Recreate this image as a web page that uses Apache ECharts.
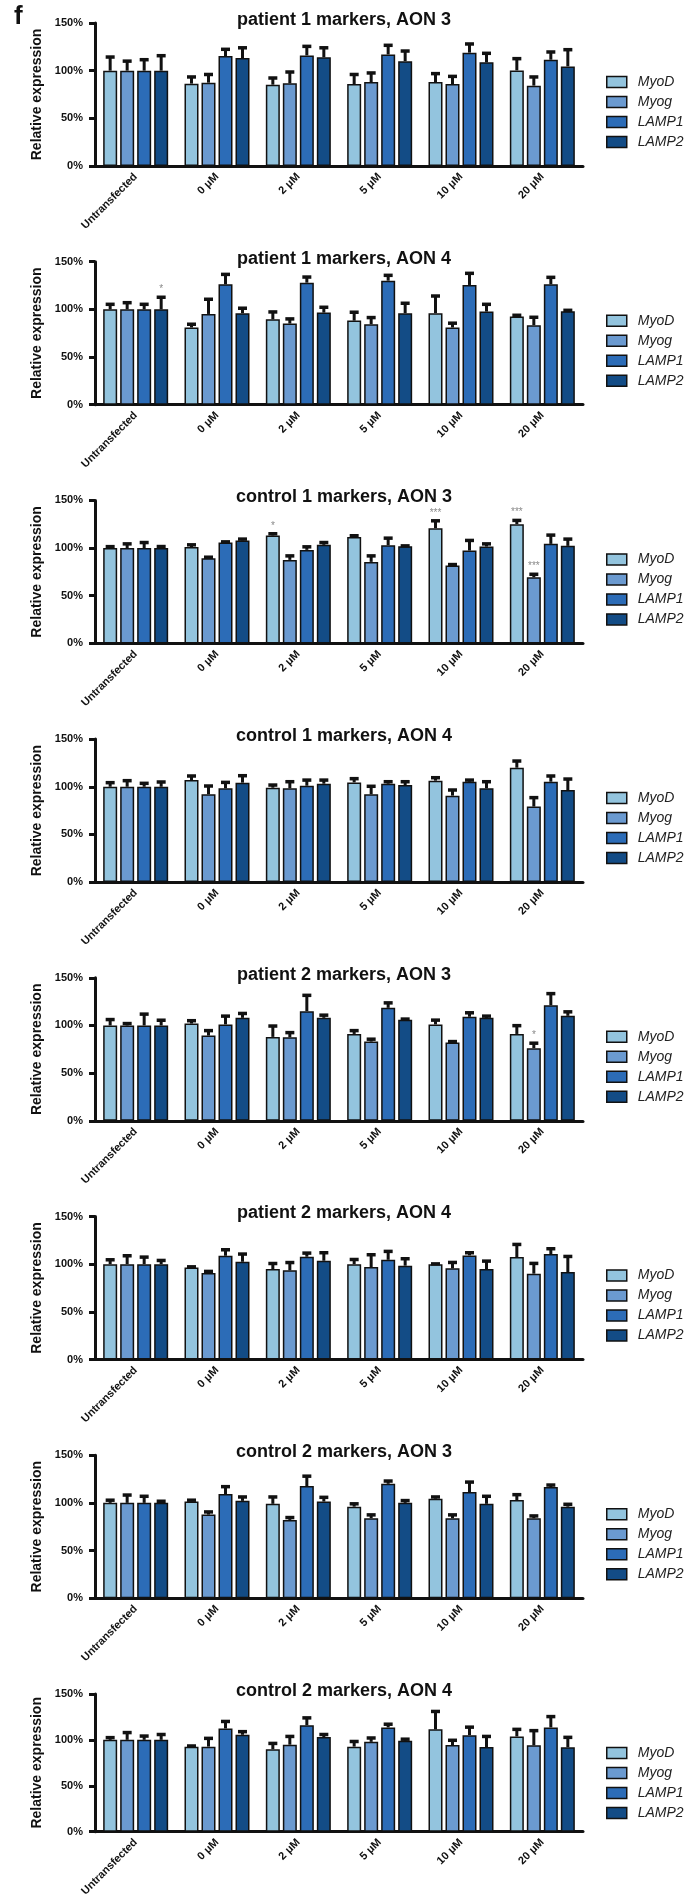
<!DOCTYPE html>
<html>
<head>
<meta charset="utf-8">
<script src="https://cdn.jsdelivr.net/npm/echarts@6/dist/echarts.min.js"></script>
<style>
  html, body { margin: 0; padding: 0; background: #fff; }
  #chart { width: 696px; height: 1899px; }
</style>
</head>
<body>
<div id="chart"></div>
<script>
// ---------- DATA ----------
const categories = ['Untransfected', '0 μM', '2 μM', '5 μM', '10 μM', '20 μM'];
const markers = ['MyoD', 'Myog', 'LAMP1', 'LAMP2'];
const yTicks = [0, 50, 100, 150];
const panelTitles = [
  'patient 1 markers, AON 3', 'patient 1 markers, AON 4',
  'control 1 markers, AON 3', 'control 1 markers, AON 4',
  'patient 2 markers, AON 3', 'patient 2 markers, AON 4',
  'control 2 markers, AON 3', 'control 2 markers, AON 4'
];

// values per marker (rows: MyoD, Myog, LAMP1, LAMP2), % relative expression
const patient1AON3_values = [
  [100, 86.4, 85.3, 86.0, 88.0, 100.3],
  [100, 87.4, 86.7, 88.0, 86.0, 84.3],
  [100, 115.4, 116.0, 117.0, 118.9, 111.5],
  [100, 113.3, 114.0, 110.0, 108.7, 104.5]
];
const patient1AON3_errors = [
  [14.3, 7.0, 7.0, 10.0, 8.9, 12.3],
  [10.0, 8.6, 11.9, 9.6, 8.0, 9.1],
  [11.5, 7.0, 9.5, 9.6, 9.1, 8.1],
  [15.7, 10.7, 10.0, 10.6, 9.5, 17.5]
];
const patient1AON3_stars = [];

const patient1AON4_values = [
  [100, 81.0, 89.6, 88.2, 96.0, 92.4],
  [100, 95.2, 85.1, 84.4, 81.0, 83.4],
  [100, 126.3, 128.0, 130.1, 125.6, 126.3],
  [100, 96.0, 96.6, 96.0, 97.7, 98.0]
];
const patient1AON4_errors = [
  [5.3, 3.4, 7.7, 8.8, 18.0, 1.4],
  [7.0, 15.4, 4.9, 7.0, 4.5, 8.3],
  [5.3, 10.4, 5.9, 5.6, 12.2, 7.3],
  [12.7, 5.2, 5.6, 10.4, 7.6, 1.0]
];
const patient1AON4_stars = [[0, 3, '*']];

const control1AON3_values = [
  [100, 101.0, 113.2, 111.5, 120.9, 125.1],
  [100, 89.4, 87.6, 85.5, 81.7, 69.4],
  [100, 105.8, 98.1, 103.0, 97.4, 104.4],
  [100, 108.0, 103.4, 102.0, 101.6, 102.3]
];
const control1AON3_errors = [
  [1.5, 2.4, 1.8, 1.4, 7.7, 3.9],
  [4.4, 1.0, 4.2, 6.3, 1.0, 3.1],
  [5.8, 0.7, 3.2, 7.4, 10.6, 9.2],
  [1.6, 1.4, 2.4, 0.3, 2.8, 7.1]
];
const control1AON3_stars = [[2, 0, '*'], [4, 0, '***'], [5, 0, '***'], [5, 1, '***']];

const control1AON4_values = [
  [100, 107.0, 99.0, 104.6, 106.4, 120.0],
  [100, 92.1, 98.4, 92.1, 90.7, 79.2],
  [100, 98.4, 101.1, 103.2, 105.3, 105.3],
  [100, 104.3, 103.2, 101.8, 98.4, 96.6]
];
const control1AON4_errors = [
  [4.3, 4.3, 2.8, 3.9, 3.1, 7.0],
  [6.4, 8.7, 6.9, 8.4, 5.9, 9.4],
  [3.6, 6.2, 5.9, 2.1, 1.7, 6.0],
  [5.0, 7.3, 3.8, 3.5, 6.9, 11.5]
];
const control1AON4_stars = [];

const patient2AON3_values = [
  [100, 102.0, 88.0, 91.1, 101.1, 91.1],
  [100, 89.4, 87.6, 83.1, 82.1, 76.2],
  [100, 101.1, 115.0, 118.5, 109.1, 121.2],
  [100, 108.0, 108.0, 106.0, 108.0, 110.1]
];
const patient2AON3_errors = [
  [6.2, 3.0, 11.4, 3.5, 4.5, 8.7],
  [2.0, 5.2, 4.9, 2.5, 1.0, 5.2],
  [11.9, 8.7, 16.6, 5.2, 4.2, 12.2],
  [5.5, 4.6, 2.8, 0.7, 1.8, 4.2]
];
const patient2AON3_stars = [[5, 1, '*']];

const patient2AON4_values = [
  [100, 96.5, 94.8, 100.0, 100.0, 107.4],
  [100, 90.7, 93.5, 97.0, 95.6, 90.0],
  [100, 108.8, 107.8, 104.6, 109.2, 110.6],
  [100, 102.5, 103.6, 98.4, 94.9, 91.7]
];
const patient2AON4_errors = [
  [4.6, 0.7, 5.9, 4.9, 0.3, 13.3],
  [8.8, 1.7, 8.2, 12.9, 6.2, 10.8],
  [7.4, 6.3, 3.8, 8.8, 2.8, 5.6],
  [3.9, 8.1, 8.4, 7.3, 8.3, 16.4]
];
const patient2AON4_stars = [];

const control2AON3_values = [
  [100, 101.4, 99.0, 96.0, 104.4, 103.0],
  [100, 87.7, 82.1, 83.9, 83.9, 83.9],
  [100, 109.3, 117.6, 120.0, 111.4, 116.6],
  [100, 102.1, 101.4, 100.0, 99.0, 96.0]
];
const control2AON3_errors = [
  [2.8, 1.4, 7.2, 3.0, 1.8, 5.6],
  [8.2, 2.8, 2.5, 3.5, 3.5, 2.4],
  [6.9, 7.7, 10.4, 2.9, 10.4, 2.1],
  [1.7, 4.1, 4.4, 2.4, 7.9, 2.5]
];
const control2AON3_stars = [];

const control2AON4_values = [
  [100, 92.6, 89.8, 92.6, 111.4, 103.7],
  [100, 92.6, 94.7, 97.8, 94.3, 94.0],
  [100, 112.4, 115.9, 113.5, 105.1, 113.5],
  [100, 105.5, 103.0, 99.0, 92.2, 91.9]
];
const control2AON4_errors = [
  [2.4, 0.7, 6.3, 5.6, 19.5, 7.7],
  [7.9, 9.0, 9.0, 4.2, 5.2, 16.0],
  [4.1, 7.6, 8.0, 3.5, 8.7, 11.8],
  [5.8, 3.4, 2.8, 1.7, 11.5, 10.8]
];
const control2AON4_stars = [];

const panelValues = [patient1AON3_values, patient1AON4_values, control1AON3_values, control1AON4_values,
  patient2AON3_values, patient2AON4_values, control2AON3_values, control2AON4_values];
const panelErrors = [patient1AON3_errors, patient1AON4_errors, control1AON3_errors, control1AON4_errors,
  patient2AON3_errors, patient2AON4_errors, control2AON3_errors, control2AON4_errors];
const panelStars = [patient1AON3_stars, patient1AON4_stars, control1AON3_stars, control1AON4_stars,
  patient2AON3_stars, patient2AON4_stars, control2AON3_stars, control2AON4_stars];

// ---------- STYLE ----------
const FONT = '"Liberation Sans", Arial, Helvetica, sans-serif';
const colors = ['#93c4de', '#6b9ad0', '#2c6cb7', '#134c86'];
const BAR_W = 14, BAR_GAP = 3;
const GRID_LEFT = 95, GRID_W = 488, GRID_H = 143, FIRST_TOP = 23, PANEL_STEP = 238.7;
const INK = '#111';

const chart = echarts.init(document.getElementById('chart'), null, { renderer: 'canvas' });

const grids = [], xAxes = [], yAxes = [], titles = [], legends = [], series = [];

function makeRender(stars) {
  return function (params, api) {
    const cat = api.value(0), s = api.value(1), v = api.value(2), e = api.value(3);
    const base = api.coord([cat, v]);
    const top = api.coord([cat, v + e]);
    const x = base[0] + (s - 1.5) * (BAR_W + BAR_GAP);
    const children = [
      { type: 'line', shape: { x1: x, y1: base[1], x2: x, y2: top[1] }, style: { stroke: INK, lineWidth: 3 } },
      { type: 'line', shape: { x1: x - 4.5, y1: top[1], x2: x + 4.5, y2: top[1] }, style: { stroke: INK, lineWidth: 3.5 } }
    ];
    const st = stars.find(d => d[0] === cat && d[1] === s);
    if (st) {
      children.push({ type: 'text', x: x, y: top[1] - 3,
        style: { text: st[2], fill: '#8a8a8a', font: '10px ' + FONT, align: 'center', verticalAlign: 'bottom' } });
    }
    return { type: 'group', children };
  };
}

for (let p = 0; p < 8; p++) {
  const top = FIRST_TOP + p * PANEL_STEP;
  grids.push({ left: GRID_LEFT, top: top, width: GRID_W, height: GRID_H, containLabel: false });
  xAxes.push({
    type: 'category', gridIndex: p, data: categories,
    axisLine: { lineStyle: { color: INK, width: 3 } },
    axisTick: { alignWithLabel: true, length: 6, lineStyle: { color: INK, width: 3 } },
    axisLabel: { rotate: 45, margin: 9, color: INK, fontFamily: FONT, fontWeight: 'bold', fontSize: 11, interval: 0 },
    splitLine: { show: false }
  });
  yAxes.push({
    type: 'value', gridIndex: p, min: yTicks[0], max: yTicks[yTicks.length - 1], interval: 50,
    name: 'Relative expression', nameLocation: 'middle', nameGap: 47,
    nameTextStyle: { color: INK, fontFamily: FONT, fontWeight: 'bold', fontSize: 14 },
    axisLine: { show: true, lineStyle: { color: INK, width: 3 } },
    axisTick: { show: true, length: 6, lineStyle: { color: INK, width: 3 } },
    axisLabel: { formatter: '{value}%', margin: 12, color: INK, fontFamily: FONT, fontWeight: 'bold', fontSize: 11 },
    splitLine: { show: false }
  });
  titles.push({
    text: panelTitles[p], left: GRID_LEFT + GRID_W / 2, top: top - 17, textAlign: 'center',
    textStyle: { color: INK, fontFamily: FONT, fontWeight: 'bold', fontSize: 18 }
  });
  legends.push({
    data: markers, orient: 'vertical', left: 601, top: top + 47,
    icon: 'rect', itemWidth: 20, itemHeight: 11, itemGap: 6, selectedMode: false,
    itemStyle: { borderColor: INK, borderWidth: 1.5 },
    textStyle: { color: '#222', fontFamily: FONT, fontStyle: 'italic', fontSize: 14, lineHeight: 14, padding: [0, 0, 0, 6] }
  });
  for (let s = 0; s < 4; s++) {
    series.push({
      type: 'bar', name: markers[s], xAxisIndex: p, yAxisIndex: p,
      data: panelValues[p][s], barWidth: BAR_W, barGap: (BAR_GAP / BAR_W * 100) + '%',
      itemStyle: { color: colors[s], borderColor: INK, borderWidth: 1.5 },
      silent: true, animation: false
    });
  }
  const errData = [];
  for (let s = 0; s < 4; s++) {
    for (let c = 0; c < categories.length; c++) {
      errData.push([c, s, panelValues[p][s][c], panelErrors[p][s][c]]);
    }
  }
  series.push({
    type: 'custom', xAxisIndex: p, yAxisIndex: p, data: errData, z: 5,
    renderItem: makeRender(panelStars[p]), silent: true, animation: false,
    encode: { x: 0, y: 2 }
  });
}

chart.setOption({
  backgroundColor: '#ffffff',
  animation: false,
  graphic: [{ type: 'text', left: 14, top: 4, style: { text: 'f', font: 'bold 26px ' + FONT, fill: INK } }],
  title: titles, grid: grids, xAxis: xAxes, yAxis: yAxes, legend: legends, series: series
});
</script>
</body>
</html>
